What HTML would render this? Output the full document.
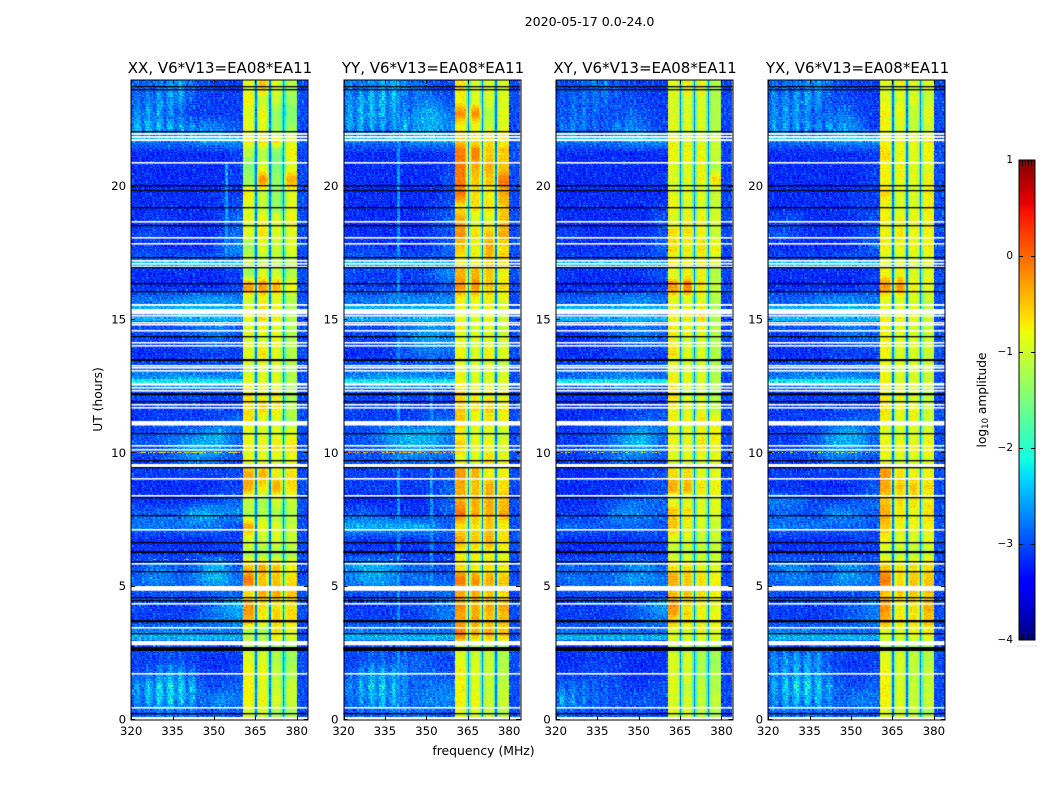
<!DOCTYPE html>
<html>
<head>
<meta charset="utf-8">
<title>2020-05-17 0.0-24.0</title>
<style>
html,body{margin:0;padding:0;background:#fff;}
#fig{position:relative;width:1050px;height:800px;overflow:hidden;background:#fff;font-family:"DejaVu Sans","Liberation Sans",sans-serif;}
canvas{position:absolute;display:block;}
svg{position:absolute;left:0;top:0;}
svg text{font-family:"DejaVu Sans","Liberation Sans",sans-serif;fill:#000;}
</style>
</head>
<body>
<div id="fig">
<svg id="overlay" width="1050" height="800">
  <text x="589.5" y="26" font-size="12.6" text-anchor="middle">2020-05-17 0.0-24.0</text>
  <text x="220" y="73" font-size="15" text-anchor="middle">XX, V6*V13=EA08*EA11</text>
  <text x="433" y="73" font-size="15" text-anchor="middle">YY, V6*V13=EA08*EA11</text>
  <text x="645" y="73" font-size="15" text-anchor="middle">XY, V6*V13=EA08*EA11</text>
  <text x="857.5" y="73" font-size="15" text-anchor="middle">YX, V6*V13=EA08*EA11</text>
  <text transform="translate(102,399.5) rotate(-90)" font-size="12.3" text-anchor="middle">UT (hours)</text>
  <text x="483.5" y="755" font-size="12.4" text-anchor="middle">frequency (MHz)</text>
  <text transform="translate(986,400) rotate(-90)" font-size="12.2" text-anchor="middle">log<tspan font-size="8.5" dy="2">10</tspan><tspan dy="-2"> amplitude</tspan></text>
</svg>
</div>
<script>
// Axis ticks
const freqTicks = [320, 335, 350, 365, 380];
const timeTicks = [0, 5, 10, 15, 20];
const colorTicks = [1, 0, -1, -2, -3, -4];

// Sub-band edges (MHz): the bright band and the gaps between sub-bands
const bandEdges = [360.5, 365.25, 370.25, 375.25, 380];
const gapLevel = [-2.8];
const rightLevel = [-3.0, -3.0, -3.05, -3.0];

// Flagged (white) time ranges, UT hours [top, bottom]
const whiteFlags = [
[22.01,21.94],[21.90,21.83],[21.79,21.71],[20.93,20.87],[18.71,18.66],[18.11,18.06],[17.89,17.83],
[17.25,17.19],[17.14,17.08],[17.04,16.99],[15.60,15.53],[15.41,15.21],[15.17,15.13],[14.93,14.87],
[14.85,14.79],[14.63,14.57],[14.18,14.12],[14.08,14.03],[13.33,13.28],[13.24,13.18],[13.11,13.05],
[12.64,12.54],[12.49,12.44],[12.38,12.33],[11.85,11.80],[11.74,11.69],[11.21,11.04],[10.31,10.26],
[10.18,10.13],[9.61,9.49],[9.08,9.03],[8.44,8.39],[7.16,7.11],[5.89,5.84],[5.03,4.85],[4.39,4.34],
[3.49,3.44],[2.96,2.80],[1.76,1.71],[0.49,0.44],[0.12,0]];

// Zero-valued (black) time ranges, UT hours [top, bottom]
const blackFlags = [
[23.76,23.71],[23.65,23.60],[22.07,22.02],[20.08,20.03],[19.86,19.81],[19.22,19.17],[18.58,18.53],
[17.35,17.30],[16.97,16.92],[16.39,16.34],[16.07,16.02],[14.40,14.35],[13.53,13.45],[12.28,12.23],
[12.22,12.17],[11.95,11.90],[10.76,10.71],[9.75,9.70],[9.47,9.42],[8.35,8.30],[7.69,7.64],[6.66,6.61],
[6.32,6.24],[5.96,5.91],[5.57,5.52],[4.60,4.55],[4.50,4.45],[3.75,3.70],[3.70,3.65],[3.26,3.21],
[2.74,2.59],[0.26,0.21]];

// Row-wide brighter streaks in the low band [top, bottom, log amplitude]
const streakRows = [[21.90,21.71,-2.4],[17.20,17.0,-2.4],[15.53,15.41,-2.5],[15.10,14.95,-2.5],[12.80,12.64,-2.2],[3.24,3.0,-2.5]];

// Interference rows per panel [UT, log amplitude, minimum speckle shown]
const rfiRowsXX = [[10.04,-0.9,-0.3],[6.03,-1.4,0.35]];
const rfiRowsYY = [[10.04,-0.5,-0.3],[6.03,-1.3,0.4]];
const rfiRowsXY = [[10.04,-1.3,0.1],[6.03,-2.0,0.5]];
const rfiRowsYX = [[10.04,-1.5,0.1],[6.03,-2.0,0.5]];

// Interference channels per panel [MHz, top UT, bottom UT, log amplitude]
const rfiColsXX = [[354.5,20.9,17.3,-2.6]];
const rfiColsYY = [[340,24,0,-2.65],[352,13.5,5,-2.65]];
const rfiColsXY = [];
const rfiColsYX = [];

// Low band 320-360 MHz in 5 MHz columns, 0.5 h rows from 24 UT downward; log10 amplitude x10
const lowXX = [
[-28,-28,-27,-25,-28,-29,-30,-30],[-28,-27,-26,-26,-29,-30,-30,-30],[-27,-26,-27,-28,-30,-30,-30,-30],[-25,-25,-25,-26,-27,-26,-27,-29],
[-27,-27,-27,-27,-26,-25,-25,-25],[-31,-31,-31,-31,-31,-31,-31,-30],[-31,-31,-31,-31,-31,-31,-31,-30],[-31,-31,-31,-31,-31,-31,-31,-30],
[-31,-31,-31,-31,-31,-31,-30,-30],[-31,-31,-31,-31,-31,-31,-30,-29],[-31,-30,-30,-31,-31,-31,-30,-28],[-30,-29,-30,-30,-31,-31,-30,-28],
[-30,-30,-31,-31,-31,-31,-29,-26],[-28,-28,-28,-28,-28,-28,-28,-28],[-31,-31,-31,-31,-31,-31,-31,-30],[-31,-31,-31,-31,-31,-31,-31,-30],
[-27,-27,-27,-26,-25,-25,-25,-26],[-29,-29,-28,-25,-25,-25,-25,-27],[-29,-29,-29,-29,-28,-27,-26,-28],[-30,-30,-30,-30,-29,-28,-28,-29],
[-31,-31,-31,-31,-30,-30,-30,-30],[-29,-29,-29,-29,-29,-29,-29,-29],[-25,-25,-24,-24,-24,-24,-25,-25],[-29,-29,-29,-29,-29,-29,-29,-29],
[-30,-30,-30,-30,-30,-30,-30,-30],[-31,-30,-30,-30,-30,-30,-29,-28],[-29,-29,-28,-28,-27,-25,-24,-27],[-29,-29,-28,-26,-24,-24,-25,-28],
[-30,-30,-29,-28,-26,-27,-28,-29],[-30,-30,-30,-30,-30,-30,-30,-29],[-31,-31,-31,-31,-31,-31,-30,-30],[-31,-31,-31,-31,-31,-30,-29,-28],
[-28,-28,-28,-28,-24,-24,-26,-26],[-27,-27,-27,-27,-27,-27,-28,-29],[-31,-31,-31,-31,-31,-31,-30,-30],[-30,-30,-30,-30,-30,-30,-30,-30],
[-29,-27,-27,-29,-28,-25,-24,-28],[-28,-26,-27,-28,-27,-24,-24,-27],[-29,-29,-29,-29,-29,-29,-28,-28],[-29,-30,-30,-30,-30,-28,-26,-24],
[-30,-30,-30,-30,-29,-28,-27,-26],[-26,-26,-25,-25,-26,-27,-27,-27],[-29,-29,-29,-29,-29,-29,-29,-29],[-30,-30,-29,-29,-30,-31,-31,-30],
[-29,-28,-26,-26,-28,-30,-30,-29],[-26,-24,-23,-24,-25,-29,-29,-28],[-27,-25,-24,-24,-26,-28,-25,-27],[-29,-28,-27,-28,-28,-29,-28,-29]];
const lowYY = [
[-27,-27,-26,-25,-27,-27,-29,-30],[-27,-25,-25,-25,-28,-27,-27,-29],[-26,-25,-25,-26,-27,-25,-24,-27],[-26,-26,-26,-27,-25,-25,-24,-26],
[-27,-27,-27,-27,-26,-25,-25,-25],[-31,-31,-31,-31,-31,-31,-31,-30],[-31,-31,-31,-31,-31,-31,-31,-30],[-31,-31,-31,-31,-31,-31,-31,-29],
[-31,-31,-31,-31,-31,-31,-31,-30],[-31,-31,-31,-31,-31,-31,-30,-29],[-31,-31,-31,-31,-31,-31,-30,-28],[-31,-31,-31,-31,-31,-31,-30,-29],
[-30,-30,-30,-31,-31,-31,-30,-28],[-28,-28,-28,-28,-28,-28,-28,-28],[-29,-30,-30,-30,-30,-30,-28,-26],[-30,-30,-30,-30,-30,-30,-30,-29],
[-27,-27,-27,-26,-26,-26,-26,-26],[-29,-29,-29,-28,-28,-27,-26,-27],[-29,-29,-29,-29,-28,-26,-25,-26],[-30,-30,-30,-30,-27,-25,-25,-26],
[-31,-31,-31,-30,-29,-28,-27,-28],[-29,-29,-29,-29,-29,-29,-29,-29],[-25,-25,-24,-24,-24,-24,-25,-25],[-29,-29,-29,-29,-29,-29,-29,-29],
[-30,-30,-30,-30,-30,-30,-30,-30],[-30,-30,-30,-30,-30,-29,-28,-27],[-29,-29,-27,-25,-24,-24,-24,-26],[-29,-29,-28,-26,-24,-24,-25,-27],
[-29,-29,-29,-28,-27,-28,-28,-28],[-30,-30,-30,-30,-30,-30,-30,-29],[-30,-30,-30,-30,-30,-30,-30,-28],[-31,-31,-31,-31,-31,-31,-30,-28],
[-29,-28,-29,-30,-30,-31,-30,-28],[-24,-24,-24,-24,-24,-24,-26,-28],[-30,-31,-31,-31,-31,-31,-30,-29],[-30,-30,-30,-30,-30,-30,-30,-30],
[-26,-24,-24,-25,-28,-28,-29,-29],[-27,-25,-25,-26,-28,-27,-28,-28],[-29,-29,-29,-29,-29,-28,-28,-28],[-30,-30,-30,-30,-30,-29,-28,-27],
[-30,-30,-30,-30,-30,-30,-28,-27],[-26,-26,-26,-26,-26,-27,-27,-27],[-29,-29,-29,-29,-29,-29,-28,-28],[-30,-29,-28,-29,-28,-28,-29,-30],
[-29,-26,-25,-26,-27,-28,-28,-29],[-27,-25,-24,-25,-27,-28,-27,-27],[-28,-26,-25,-25,-27,-27,-26,-26],[-29,-28,-28,-28,-28,-27,-28,-29]];
const lowXY = [
[-29,-29,-28,-27,-29,-29,-30,-30],[-29,-28,-28,-28,-29,-29,-30,-30],[-29,-28,-28,-29,-29,-28,-29,-30],[-28,-27,-28,-29,-27,-26,-28,-30],
[-27,-27,-27,-27,-26,-25,-25,-25],[-31,-31,-31,-31,-31,-31,-31,-31],[-31,-31,-31,-31,-31,-31,-31,-31],[-31,-31,-31,-31,-31,-31,-31,-30],
[-31,-31,-31,-31,-31,-31,-31,-31],[-31,-31,-31,-31,-31,-31,-31,-30],[-31,-31,-31,-31,-31,-31,-31,-29],[-30,-30,-31,-31,-31,-31,-31,-29],
[-31,-31,-31,-31,-31,-31,-30,-28],[-29,-29,-29,-29,-29,-29,-29,-29],[-30,-31,-31,-31,-31,-31,-30,-29],[-31,-31,-31,-31,-31,-31,-31,-30],
[-28,-28,-28,-27,-27,-26,-26,-27],[-29,-29,-29,-27,-26,-26,-26,-28],[-30,-30,-29,-29,-28,-27,-27,-28],[-31,-31,-30,-30,-28,-27,-27,-28],
[-31,-31,-31,-31,-30,-30,-30,-30],[-29,-29,-29,-29,-29,-29,-29,-29],[-27,-27,-26,-26,-25,-25,-26,-27],[-30,-30,-30,-30,-29,-29,-29,-29],
[-31,-31,-31,-31,-31,-30,-30,-30],[-31,-31,-30,-30,-30,-29,-28,-28],[-30,-30,-29,-29,-27,-25,-24,-27],[-30,-30,-29,-28,-26,-24,-24,-28],
[-30,-30,-30,-29,-27,-28,-28,-29],[-31,-31,-31,-31,-31,-30,-30,-29],[-31,-31,-31,-31,-31,-31,-30,-29],[-31,-31,-31,-30,-29,-28,-28,-28],
[-30,-30,-30,-29,-26,-26,-27,-28],[-28,-28,-28,-28,-28,-28,-28,-29],[-31,-31,-31,-31,-31,-31,-30,-30],[-31,-31,-31,-30,-30,-30,-30,-30],
[-28,-28,-28,-28,-28,-26,-26,-28],[-28,-27,-28,-28,-27,-25,-26,-27],[-29,-29,-29,-29,-29,-29,-29,-29],[-30,-30,-30,-30,-30,-29,-27,-25],
[-30,-30,-30,-30,-30,-29,-28,-27],[-27,-27,-27,-27,-27,-27,-28,-28],[-30,-30,-30,-30,-30,-30,-30,-30],[-31,-31,-30,-30,-30,-31,-31,-31],
[-30,-30,-29,-29,-30,-31,-31,-30],[-28,-28,-28,-29,-29,-30,-30,-29],[-25,-27,-28,-28,-29,-29,-28,-29],[-28,-29,-29,-29,-29,-29,-29,-30]];
const lowYX = [
[-28,-28,-27,-26,-28,-29,-30,-30],[-27,-27,-26,-26,-29,-29,-30,-30],[-27,-26,-27,-28,-28,-27,-29,-30],[-26,-26,-26,-27,-26,-25,-27,-30],
[-27,-27,-27,-27,-26,-25,-25,-25],[-31,-31,-31,-31,-31,-31,-31,-30],[-31,-31,-31,-31,-31,-31,-31,-30],[-31,-31,-31,-31,-31,-31,-31,-30],
[-31,-31,-31,-31,-31,-31,-30,-30],[-31,-31,-31,-31,-31,-31,-30,-30],[-30,-29,-30,-31,-31,-31,-30,-29],[-29,-29,-30,-31,-31,-31,-30,-29],
[-31,-31,-31,-31,-31,-31,-30,-28],[-29,-29,-29,-29,-29,-29,-29,-29],[-31,-31,-31,-31,-31,-31,-31,-30],[-31,-31,-31,-31,-31,-31,-31,-30],
[-28,-28,-28,-27,-26,-26,-26,-27],[-29,-29,-28,-26,-26,-26,-26,-27],[-29,-29,-29,-29,-28,-27,-27,-28],[-30,-30,-30,-30,-29,-28,-28,-28],
[-31,-31,-31,-31,-30,-30,-30,-30],[-29,-29,-29,-29,-29,-29,-29,-29],[-26,-26,-25,-25,-25,-25,-25,-26],[-30,-30,-30,-30,-29,-29,-29,-29],
[-30,-30,-30,-30,-30,-30,-30,-30],[-30,-30,-30,-30,-30,-29,-28,-28],[-30,-30,-29,-29,-26,-24,-25,-27],[-30,-30,-29,-28,-25,-24,-25,-28],
[-30,-30,-30,-29,-27,-28,-28,-29],[-30,-30,-30,-30,-30,-30,-30,-29],[-31,-31,-31,-31,-31,-31,-30,-29],[-27,-27,-28,-30,-30,-30,-29,-28],
[-28,-28,-29,-29,-26,-26,-27,-28],[-27,-27,-27,-27,-28,-28,-28,-29],[-31,-31,-31,-31,-31,-31,-30,-30],[-30,-30,-30,-30,-30,-30,-30,-30],
[-27,-26,-26,-28,-28,-26,-26,-28],[-28,-27,-27,-28,-27,-25,-26,-27],[-29,-29,-29,-29,-29,-29,-29,-28],[-30,-30,-30,-30,-30,-29,-28,-27],
[-30,-30,-30,-30,-30,-29,-28,-27],[-26,-26,-26,-26,-27,-27,-28,-28],[-28,-29,-29,-28,-29,-29,-29,-29],[-27,-26,-26,-26,-29,-30,-30,-30],
[-27,-26,-25,-26,-28,-30,-30,-29],[-26,-24,-23,-24,-26,-29,-29,-28],[-27,-25,-25,-25,-27,-28,-26,-27],[-28,-28,-28,-28,-28,-29,-28,-29]];

// Bright band, four sub-bands per row, 0.5 h rows from 24 UT downward; log10 amplitude x10
const bandXX = [
[-9,-6,-9,-11],[-8,-10,-10,-12],[-9,-8,-12,-13],[-9,-9,-12,-12],[-8,-7,-7,-9],[-11,-11,-13,-8],[-13,-9,-13,-9],[-12,-4,-12,-5],
[-8,-10,-12,-9],[-9,-10,-12,-9],[-9,-8,-9,-8],[-9,-7,-9,-9],[-12,-9,-10,-9],[-10,-10,-10,-10],[-12,-9,-10,-11],[-4,-4,-5,-8],
[-10,-8,-9,-11],[-8,-6,-7,-11],[-9,-8,-9,-11],[-9,-9,-8,-11],[-9,-7,-9,-11],[-10,-9,-9,-11],[-9,-9,-9,-11],[-7,-8,-8,-11],
[-7,-6,-7,-11],[-7,-9,-9,-11],[-9,-9,-9,-9],[-8,-8,-7,-7],[-9,-9,-9,-9],[-5,-5,-8,-7],[-5,-7,-5,-7],[-10,-11,-9,-10],
[-11,-11,-11,-11],[-5,-8,-9,-10],[-9,-10,-9,-10],[-11,-11,-11,-11],[-6,-5,-6,-8],[-3,-6,-6,-7],[-7,-5,-5,-6],[-4,-7,-7,-7],
[-5,-8,-6,-7],[-11,-11,-7,-9],[-10,-10,-11,-11],[-9,-9,-11,-12],[-8,-8,-10,-11],[-8,-9,-10,-10],[-8,-8,-9,-10],[-9,-9,-11,-11]];
const bandYY = [
[-7,-9,-9,-9],[-8,-9,-9,-9],[-4,-4,-11,-9],[-8,-8,-10,-9],[-6,-7,-7,-8],[-3,-3,-6,-6],[-3,-5,-5,-6],[-3,-6,-6,-3],
[-3,-7,-8,-5],[-7,-7,-7,-6],[-5,-9,-9,-6],[-4,-7,-6,-5],[-6,-8,-5,-7],[-8,-8,-6,-7],[-5,-5,-6,-8],[-4,-4,-6,-7],
[-8,-8,-8,-9],[-9,-9,-8,-10],[-8,-9,-9,-10],[-9,-9,-9,-10],[-8,-9,-8,-9],[-9,-9,-9,-10],[-8,-9,-9,-9],[-7,-8,-8,-9],
[-6,-7,-6,-8],[-6,-8,-7,-8],[-8,-9,-9,-10],[-6,-8,-8,-9],[-9,-9,-7,-9],[-4,-5,-8,-8],[-5,-6,-5,-7],[-5,-5,-5,-6],
[-3,-5,-5,-5],[-7,-7,-6,-8],[-5,-6,-5,-7],[-8,-8,-8,-9],[-7,-8,-7,-8],[-3,-4,-5,-6],[-5,-5,-6,-7],[-4,-5,-5,-5],
[-5,-5,-6,-6],[-3,-5,-5,-6],[-9,-10,-10,-11],[-9,-9,-10,-11],[-8,-9,-10,-11],[-8,-9,-10,-10],[-8,-8,-10,-10],[-9,-9,-10,-11]];
const bandXY = [
[-9,-8,-8,-11],[-9,-9,-9,-11],[-9,-9,-9,-11],[-9,-9,-9,-11],[-8,-9,-9,-10],[-8,-8,-8,-10],[-9,-9,-8,-11],[-9,-9,-8,-7],
[-9,-9,-9,-10],[-8,-9,-9,-10],[-9,-8,-8,-9],[-7,-7,-8,-10],[-7,-8,-7,-8],[-8,-8,-8,-9],[-9,-8,-8,-11],[-4,-3,-7,-10],
[-9,-9,-9,-11],[-8,-7,-6,-11],[-8,-8,-8,-11],[-8,-9,-9,-11],[-7,-9,-9,-11],[-9,-9,-9,-11],[-8,-9,-9,-11],[-7,-9,-9,-11],
[-8,-9,-9,-11],[-8,-8,-7,-8],[-9,-9,-8,-8],[-8,-8,-7,-8],[-9,-9,-9,-9],[-7,-7,-9,-9],[-5,-5,-7,-8],[-9,-9,-9,-9],
[-6,-7,-9,-9],[-6,-8,-9,-10],[-9,-9,-10,-10],[-10,-10,-10,-10],[-7,-7,-8,-9],[-5,-6,-7,-8],[-6,-6,-7,-8],[-4,-7,-8,-9],
[-6,-7,-8,-8],[-9,-9,-8,-9],[-10,-10,-11,-11],[-9,-9,-11,-12],[-9,-9,-11,-11],[-9,-10,-10,-11],[-9,-9,-10,-10],[-9,-9,-10,-11]];
const bandYX = [
[-9,-8,-9,-9],[-9,-9,-9,-10],[-8,-8,-10,-9],[-8,-9,-10,-10],[-8,-8,-8,-8],[-7,-8,-9,-8],[-8,-8,-9,-9],[-8,-8,-9,-8],
[-7,-9,-9,-8],[-8,-9,-9,-8],[-8,-8,-8,-8],[-8,-7,-8,-8],[-8,-8,-8,-8],[-9,-9,-9,-9],[-8,-8,-9,-9],[-4,-4,-8,-9],
[-9,-9,-9,-10],[-8,-8,-8,-10],[-8,-8,-9,-10],[-8,-9,-9,-10],[-8,-9,-9,-10],[-9,-9,-9,-10],[-8,-9,-9,-10],[-8,-8,-9,-10],
[-7,-8,-8,-10],[-8,-9,-8,-10],[-9,-9,-9,-9],[-8,-8,-8,-8],[-9,-9,-9,-9],[-4,-7,-8,-8],[-5,-6,-6,-7],[-6,-7,-7,-8],
[-5,-7,-8,-7],[-6,-8,-8,-8],[-8,-9,-9,-9],[-10,-10,-10,-10],[-6,-7,-7,-7],[-3,-7,-6,-6],[-6,-6,-6,-6],[-4,-8,-7,-5],
[-5,-7,-7,-6],[-9,-9,-8,-8],[-10,-10,-11,-11],[-9,-9,-10,-11],[-8,-9,-10,-10],[-8,-9,-10,-10],[-8,-9,-10,-10],[-9,-9,-10,-11]];

// Hand-typed texture tiles (tenths of a decade) for the channel-level speckle
const speckleA = [3,-4,1,-2,5,-1,-5,2,4,-3,0,-2,3,-4,1,4,-2];
const speckleB = [-2,3,-1,4,-3,1,-4,2,0,-1,3,-3,1];
// Low-band ripple seen at the start and end of the day: 4 MHz period across channels, 0.6 h period across rows
const rippleProfile = [-0.4,-0.25,0,0.3,0.45,0.3,0,-0.25];
const rippleRows = [1,0.55,0.2,0.55];

var FMIN = 320, FMAX = 384, TMIN = 0, TMAX = 24;
var TOP = 80, HEIGHT = 640, WIDTH = 176.7;
var LOW_BIAS = -0.08;
var BAND_CONTRAST = 1.35;
var fig = document.getElementById('fig');
var svg = document.getElementById('overlay');
var NS = 'http://www.w3.org/2000/svg';

var panels = [
  {key:'xx', left:131.1, low:lowXX, band:bandXX, rows:rfiRowsXX, cols:rfiColsXX},
  {key:'yy', left:343.5, low:lowYY, band:bandYY, rows:rfiRowsYY, cols:rfiColsYY},
  {key:'xy', left:555.8, low:lowXY, band:bandXY, rows:rfiRowsXY, cols:rfiColsXY},
  {key:'yx', left:768.2, low:lowYX, band:bandYX, rows:rfiRowsYX, cols:rfiColsYX}
];

function xOf(f){ return (f - FMIN) / (FMAX - FMIN) * WIDTH; }
function yOf(t){ return TOP + (TMAX - t) / (TMAX - TMIN) * HEIGHT; }

function ramp(pts, v){
  if (v <= pts[0][0]) return pts[0][1];
  for (var i = 1; i < pts.length; i++) {
    if (v <= pts[i][0]) {
      var a = pts[i-1], b = pts[i];
      return a[1] + (b[1]-a[1]) * (v-a[0]) / (b[0]-a[0]);
    }
  }
  return pts[pts.length-1][1];
}
var jetR = [[0,0],[.35,0],[.66,1],[.89,1],[1,.5]];
var jetG = [[0,0],[.125,0],[.375,1],[.64,1],[.91,0],[1,0]];
var jetB = [[0,.5],[.11,1],[.34,1],[.65,0],[1,0]];
function jet(level){
  var n = (level + 4) / 5;
  n = Math.max(0, Math.min(1, n));
  return 'rgb(' + Math.round(ramp(jetR,n)*255) + ',' + Math.round(ramp(jetG,n)*255) + ',' + Math.round(ramp(jetB,n)*255) + ')';
}

function sampleLow(grid, f, t){
  var c = (f - 320) / 5 - 0.5;
  var r = (TMAX - t) / 0.5 - 0.5;
  c = Math.max(0, Math.min(grid[0].length - 1.001, c));
  r = Math.max(0, Math.min(grid.length - 1.001, r));
  var c0 = Math.floor(c), r0 = Math.floor(r), cf = c - c0, rf = r - r0;
  var a = grid[r0][c0]*(1-cf) + grid[r0][c0+1]*cf;
  var b = grid[r0+1][c0]*(1-cf) + grid[r0+1][c0+1]*cf;
  return (a*(1-rf) + b*rf) / 10;
}
function sampleBand(grid, f, t){
  var rp = (TMAX - t) / 0.5 - 0.5;
  rp = Math.max(0, Math.min(grid.length - 1.001, rp));
  var r = Math.floor(rp), rf = rp - r;
  rf = rf * rf * (3 - 2 * rf);
  var s = 0;
  while (s < 3 && f >= bandEdges[s+1]) s++;
  var v = (grid[r][s]*(1-rf) + grid[r+1][s]*rf) / 10;
  v = -0.9 + (v + 0.9) * BAND_CONTRAST;
  var dLo = s === 0 ? 9 : f - bandEdges[s];
  var dHi = s === 3 ? 9 : bandEdges[s+1] - f;
  var d = Math.min(dLo, dHi);
  if (d < 0.75) v -= 0.8;
  else if (d < 1.25) v -= 0.2;
  return v;
}

function drawPanel(p, idx){
  var cx = Math.floor(p.left);
  var canvas = document.createElement('canvas');
  
  
  canvas.width = Math.ceil(WIDTH) + 2;
  canvas.height = HEIGHT;
  canvas.style.left = cx + 'px';
  canvas.style.top = TOP + 'px';
  fig.insertBefore(canvas, svg);
  var ctx = canvas.getContext('2d');
  var dx = p.left - cx;
  var df = 0.5, dt = 0.05;
  var nf = Math.round((FMAX - FMIN) / df), nt = Math.round((TMAX - TMIN) / dt);
  for (var j = 0; j < nt; j++) {
    var tTop = TMAX - j * dt, tc = tTop - dt / 2;
    var y0 = Math.round(yOf(tTop) - TOP), y1 = Math.round(yOf(tTop - dt) - TOP);
    var rowBoost = null;
    streakRows.forEach(function(s){ if (tc <= s[0] && tc >= s[1]) rowBoost = s[2]; });
    var rfi = null;
    p.rows.forEach(function(s){ if (Math.abs(tc - s[0]) < 0.03) rfi = s; });
    var rowTone = speckleB[(j + idx * 3) % 13] * 0.02;
    var rippleRow = rippleRows[Math.floor(tc / 0.15) % 4];
    for (var i = 0; i < nf; i++) {
      var f = FMIN + i * df, fc = f + df / 2;
      var ia = (i + j + 5 * (speckleB[(j * 2 + idx) % 13] + 4)) % 17;
      var ib = (j + 2 * i + 3 * (speckleA[(i + idx) % 17] + 5)) % 13;
      var sp = (speckleA[ia] + speckleB[ib]) / 10;
      var v;
      if (fc >= 380) {
        v = rightLevel[idx] + sp * 0.6;
      } else if (fc >= 360.5) {
        var nearGap = false;
        for (var e = 1; e <= 3; e++) if (Math.abs(fc - bandEdges[e]) < 0.3) nearGap = true;
        v = nearGap ? gapLevel[0] + sp * 0.3 : sampleBand(p.band, fc, tc) + sp * 0.25 + rowTone;
      } else {
        v = sampleLow(p.low, fc, tc) + LOW_BIAS;
        if (fc < 345 && (tc < 3 || tc > 21.7)) {
          v += (v + 3.1) * rippleProfile[i % 8] * (0.5 + rippleRow);
        }
        if (rowBoost !== null) v = Math.max(v, rowBoost);
        p.cols.forEach(function(c){ if (Math.abs(fc - c[0]) < 0.3 && tc <= c[1] && tc >= c[2]) v = Math.max(v, c[3]); });
        v += sp * 0.6;
        if (rfi !== null && sp > rfi[2]) v = Math.max(v, rfi[1] + sp);
      }
      ctx.fillStyle = jet(v);
      var x0 = Math.round(xOf(f) + dx), x1 = Math.round(xOf(f + df) + dx);
      ctx.fillRect(x0, y0, x1 - x0, y1 - y0);
    }
  }
  ctx.fillStyle = '#fff';
  whiteFlags.forEach(function(w){
    var top = Math.round(yOf(w[0]) - TOP);
    ctx.fillRect(dx, top, WIDTH, Math.max(1.6, yOf(w[1]) - yOf(w[0])));
  });
  ctx.fillStyle = '#000';
  blackFlags.forEach(function(b){
    var top = Math.round(yOf(b[0]) - TOP);
    ctx.fillRect(dx, top, WIDTH, Math.max(1.3, yOf(b[1]) - yOf(b[0])));
  });
  drawAxes(p);
}

function addLine(x1, y1, x2, y2, stroke, parent){
  var l = document.createElementNS(NS, 'line');
  l.setAttribute('x1', x1);
  l.setAttribute('y1', y1);
  l.setAttribute('x2', x2);
  l.setAttribute('y2', y2);
  l.setAttribute('stroke', stroke || '#000');
  l.setAttribute('stroke-width', '1');
  (parent || svg).appendChild(l);
  return l;
}
function addText(x, y, str, size, anchor){
  var t = document.createElementNS(NS, 'text');
  t.setAttribute('x', x);
  t.setAttribute('y', y);
  t.setAttribute('font-size', size);
  t.setAttribute('text-anchor', anchor);
  t.textContent = str;
  svg.appendChild(t);
  return t;
}

function drawAxes(p){
  var L = p.left, R = p.left + WIDTH, B = TOP + HEIGHT;
  var frame = document.createElementNS(NS, 'rect');
  
  
  frame.setAttribute('x', Math.round(L));
  frame.setAttribute('y', TOP);
  frame.setAttribute('width', Math.round(WIDTH));
  frame.setAttribute('height', HEIGHT);
  frame.setAttribute('fill', 'none');
  frame.setAttribute('stroke', '#000');
  frame.setAttribute('stroke-width', '1');
  svg.appendChild(frame);
  freqTicks.forEach(function(f){
    var x = Math.round(L + xOf(f)) + 0.5;
    var a = addLine(x, B, x, B - 4);
    
    
    var b = addLine(x, TOP, x, TOP + 4);
    
    
    var t = addText(L + xOf(f), 735, String(f), 11.8, 'middle');
    
    
  });
  timeTicks.forEach(function(h){
    var y = Math.round(yOf(h)) - 0.5;
    var a = addLine(L, y, L + 4, y);
    
    
    var b = addLine(R, y, R - 4, y);
    
    
    var t = addText(L - 5, yOf(h) + 3.5, String(h), 11.8, 'end');
    
    
  });
}

function drawColorbar(){
  var cbL = 1019, cbW = 16, cbT = 160, cbH = 480;
  function yLevel(v){ return cbT + (1 - v) / 5 * cbH; }
  var canvas = document.createElement('canvas');
  
  
  canvas.width = cbW;
  canvas.height = cbH;
  canvas.style.left = cbL + 'px';
  canvas.style.top = cbT + 'px';
  fig.insertBefore(canvas, svg);
  var ctx = canvas.getContext('2d');
  for (var i = 0; i < cbH; i++) {
    ctx.fillStyle = jet(1 - (i + 0.5) / cbH * 5);
    ctx.fillRect(0, i, cbW, 1);
  }
  var frame = document.createElementNS(NS, 'rect');
  
  
  frame.setAttribute('x', cbL);
  frame.setAttribute('y', cbT);
  frame.setAttribute('width', cbW);
  frame.setAttribute('height', cbH);
  frame.setAttribute('fill', 'none');
  frame.setAttribute('stroke', '#000');
  frame.setAttribute('stroke-width', '1');
  svg.appendChild(frame);
  colorTicks.forEach(function(v){
    var y = yLevel(v);
    var label = v < 0 ? '\u2212' + Math.abs(v) : String(v);
    var t = addText(1013, y + 3, label, 10.5, 'end');
    
    
    if (v < 1 && v > -4) {
      var a = addLine(cbL, y + 0.5, cbL + 4, y + 0.5);
      
      
      var b = addLine(cbL + cbW, y + 0.5, cbL + cbW - 4, y + 0.5);
      
      
    }
  });
  for (var k = 1; k <= 4; k++) {
    var xm = cbL + k * 3 + 0.5;
    var m1 = addLine(xm, cbT, xm, cbT + 6);
    
    
    var m2 = addLine(xm, cbT + cbH, xm, cbT + cbH - 6);
    
    
  }
  for (var d = 0; d < 7; d++) {
    var dot = addLine(1017.5 + d * 3, 646, 1018.5 + d * 3, 646, '#aaa');
    
    
  }
}

panels.forEach(drawPanel);
drawColorbar();
</script>
</body>
</html>
